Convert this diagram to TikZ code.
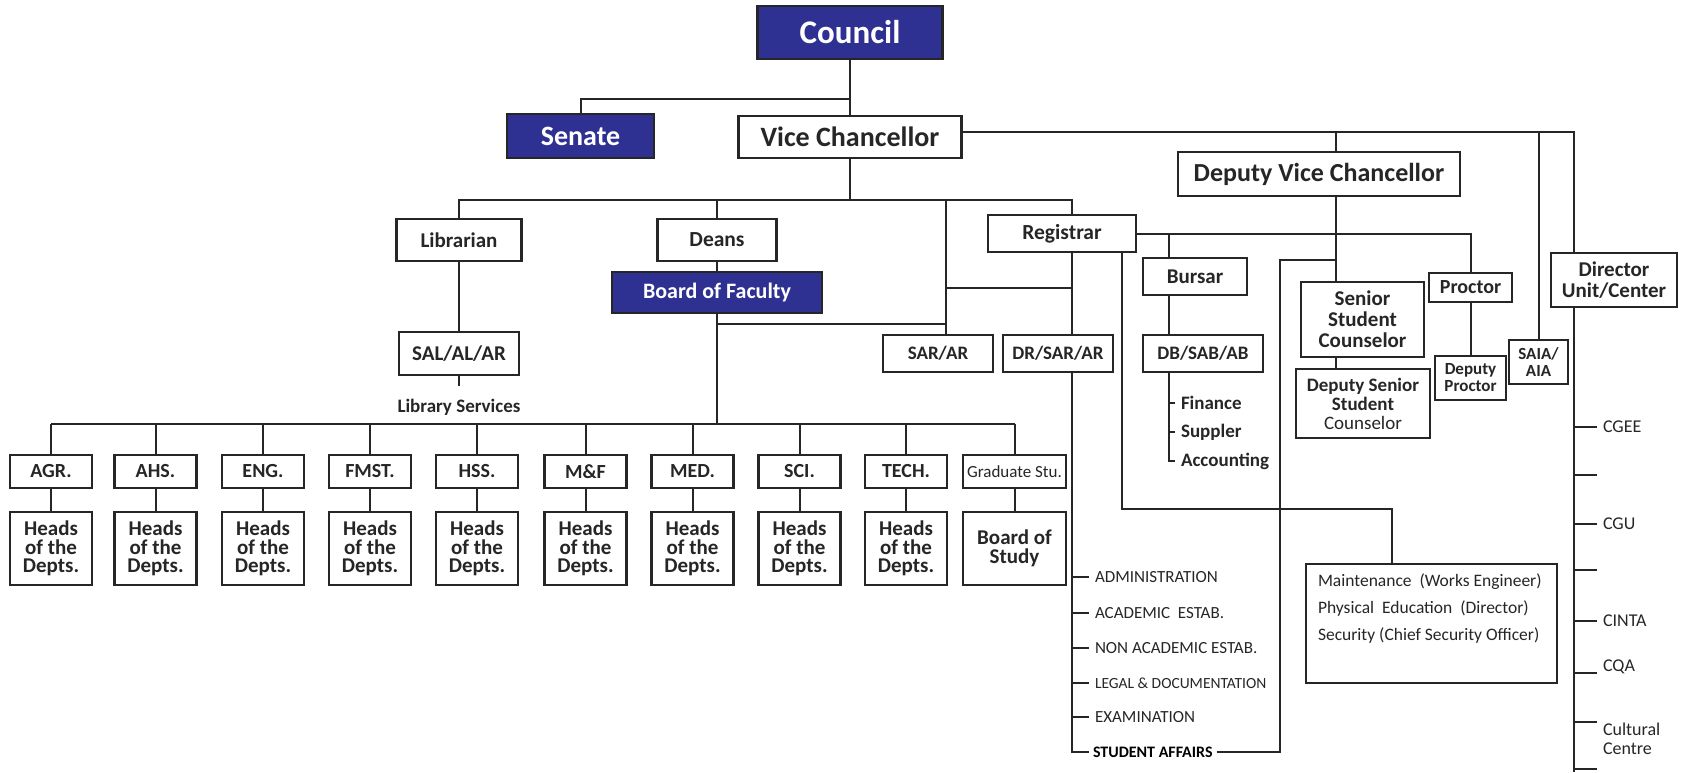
\documentclass[tikz,border=0pt]{standalone}
\usepackage{fontspec}
\setmainfont{Carlito}
\usepackage{tikz}
\usetikzlibrary{positioning}
\definecolor{councilblue}{HTML}{2E3192}
\definecolor{linegray}{HTML}{262626}
\tikzset{
	box/.style={draw=linegray, line width=2.2pt, fill=white, inner sep=2pt, align=center},
	bluebox/.style={box, fill=councilblue, text=white},
	facbox/.style={box, minimum width=82pt, minimum height=33pt, font=\bfseries\fontsize{20}{20}\selectfont},
	headbox/.style={box, minimum width=82pt, minimum height=73pt, font=\bfseries\fontsize{21}{18.5}\selectfont},
	listtext/.style={anchor=west, inner xsep=5pt, inner ysep=0pt, font=\fontsize{17}{17}\selectfont},
	ticktext/.style={listtext, font=\fontsize{18}{19}\selectfont},
	subtext/.style={anchor=west, inner xsep=5pt, inner ysep=0pt, font=\bfseries\fontsize{19}{19}\selectfont}
}
\newcommand{\faccol}[3]{\node[facbox] (#1) at (#2,471.5) {#3};
					\node[headbox] (h#1) at (#2,548.5) {Heads\\of the\\Depts.};
					\draw (#1) -- (h#1);
					\draw (#1.north) -- (#1.north |- facbus);}

\begin{document}
\begin{tikzpicture}[x=1pt, y=-1pt, line width=2pt, color=linegray]

					\useasboundingbox (0,0) rectangle (1681,772);

					\node[bluebox, minimum width=185pt, minimum height=53pt, font=\bfseries\fontsize{33}{33}\selectfont] (council) at (850,32.5) {Council};
					\node[bluebox, minimum width=147pt, minimum height=44pt, font=\bfseries\fontsize{28}{28}\selectfont] (senate) at (580.5,136) {Senate};
					\node[box, minimum width=223pt, minimum height=42pt, font=\bfseries\fontsize{28}{28}\selectfont] (vc) at (850,137) {Vice Chancellor};
					\node[box, minimum width=282pt, minimum height=44pt, font=\bfseries\fontsize{26}{26}\selectfont] (dvc) at (1319,174) {Deputy Vice Chancellor};

					\node[box, minimum width=125pt, minimum height=42pt, font=\bfseries\fontsize{21}{21}\selectfont] (librarian) at (459,240) {Librarian};
					\node[box, minimum width=119pt, minimum height=42pt, font=\bfseries\fontsize{21.5}{21.5}\selectfont] (deans) at (717,240) {Deans};
					\node[bluebox, minimum width=210pt, minimum height=41pt, font=\bfseries\fontsize{22}{22}\selectfont] (bof) at (717,292.5) {Board of Faculty};
					\node[box, minimum width=148pt, minimum height=37pt, font=\bfseries\fontsize{21.5}{21.5}\selectfont] (registrar) at (1062,233.5) {Registrar};
					\node[box, minimum width=120pt, minimum height=43pt, font=\bfseries\fontsize{21}{21}\selectfont] (salalar) at (459,353.5) {SAL/AL/AR};
					\node[inner sep=0pt, font=\bfseries\fontsize{19}{19}\selectfont] (libserv) at (459,407) {Library Services};
					\node[box, minimum width=110pt, minimum height=37pt, font=\bfseries\fontsize{19}{19}\selectfont] (sarar) at (938,353.5) {SAR/AR};
					\node[box, minimum width=110pt, minimum height=37pt, font=\bfseries\fontsize{19}{19}\selectfont] (drsarar) at (1058,353.5) {DR/SAR/AR};
					\node[box, minimum width=104pt, minimum height=37pt, font=\bfseries\fontsize{21}{21}\selectfont] (bursar) at (1195,276.5) {Bursar};
					\node[box, minimum width=120pt, minimum height=37pt, font=\bfseries\fontsize{19}{19}\selectfont] (dbsabab) at (1203,353.5) {DB/SAB/AB};

					\node[box, minimum width=123pt, minimum height=75pt, font=\bfseries\fontsize{21}{21}\selectfont] (ssc) at (1362.5,319.5) {Senior\\Student\\Counselor};
					\node[box, minimum width=134pt, minimum height=69pt, font=\bfseries\fontsize{19}{19}\selectfont] (dssc) at (1363,403.5) {Deputy Senior\\Student\\{\mdseries Counselor}};
					\node[box, minimum width=83pt, minimum height=29pt, font=\bfseries\fontsize{20}{20}\selectfont] (proctor) at (1470.5,287.5) {Proctor};
					\node[box, minimum width=71pt, minimum height=44pt, font=\bfseries\fontsize{17}{17}\selectfont] (dproctor) at (1470.5,378) {Deputy\\Proctor};
					\node[box, minimum width=59pt, minimum height=44pt, font=\bfseries\fontsize{17}{17}\selectfont] (saia) at (1538.5,362) {SAIA/\\AIA};
					\node[box, minimum width=126pt, minimum height=54pt, font=\bfseries\fontsize{21}{21}\selectfont] (director) at (1614,280) {Director\\Unit/Center};
					\node[box, minimum width=251pt, minimum height=119pt] (maint) at (1431.5,623.5) {};
					\node[listtext, anchor=north west, align=left, font=\fontsize{17.5}{27}\selectfont] (mainttext) at (1312,573) {Maintenance\ \ (Works Engineer)\\Physical\ \ Education\ \ (Director)\\Security (Chief Security Officer)};

					\coordinate (cj) at (850,99);
					\coordinate (vcr) at (961,132);
					\coordinate (dvcin) at (1336,152);
					\coordinate (dirin) at (1574,253);
					\coordinate (dirout) at (1574,307);
					\coordinate (dirend) at (1574,772);
					\coordinate (vcbus) at (850,200);
					\coordinate (regin) at (1072,215);
					\coordinate (sarin) at (946,335);
					\coordinate (rj) at (1072,288);
					\coordinate (sarj) at (946,324);
					\coordinate (facbus) at (717,424);
					\coordinate (libstub) at (459,386);
					\coordinate (bursin) at (1169,258);
					\coordinate (sscin) at (1336,282);
					\coordinate (saj) at (1280,260);
					\coordinate (mj) at (1122,509);
					\coordinate (maintin) at (1392,564);

					\draw (council) -- (vc);
					\draw (senate.north) |- (cj);
					\draw (vcr) -| (dirin);
					\draw (dvcin |- vcr) -- (dvcin);
					\draw (saia.north |- vcr) -- (saia.north);
					\draw (dirout) -- (dirend);

					\draw (vc) -- (vcbus);
					\draw (librarian.north) |- (vcbus);
					\draw (vcbus) -| (regin);
					\draw (deans.north |- vcbus) -- (deans.north);
					\draw (sarin |- vcbus) -- (sarin);
					\draw (sarin |- rj) -- (rj);
					\draw (bof.south |- sarj) -- (sarj);
					\draw (librarian) -- (salalar);
					\draw (salalar.south) -- (libstub);
					\draw (deans) -- (bof);
					\draw (bof) -- (facbus);

					\draw (registrar.south -| regin) -- (drsarar.north -| regin);
					\draw (registrar.east) -| (proctor.north);
					\draw (bursin |- registrar.east) -- (bursin);
					\draw (bursar.south -| bursin) -- (dbsabab.north -| bursin);
					\draw (dvc.south -| sscin) -- (sscin);
					\draw (ssc.south -| sscin) -- (dssc.north -| sscin);
					\draw (proctor) -- (dproctor);
					\draw (registrar.south -| mj) -- (mj) -| (maintin);

					\node[subtext] (finance) at (1175,403) {Finance};
					\node[subtext] (suppler) at (1175,432) {Suppler};
					\node[subtext] (accounting) at (1175,461) {Accounting};
					\draw (dbsabab.south -| bursin) |- (accounting.west);
					\draw (finance.west -| bursin) -- (finance.west);
					\draw (suppler.west -| bursin) -- (suppler.west);

					\node[listtext] (admin) at (1089,577) {ADMINISTRATION};
					\node[listtext] (acad) at (1089,613) {ACADEMIC\ \ ESTAB.};
					\node[listtext] (nonacad) at (1089,648) {NON ACADEMIC ESTAB.};
					\node[listtext, font=\fontsize{15.5}{16}\selectfont] (legal) at (1089,683) {LEGAL \& DOCUMENTATION};
					\node[listtext] (exam) at (1089,717) {EXAMINATION};
					\node[listtext, font=\bfseries\fontsize{16}{16}\selectfont, text=black, inner xsep=3pt] (stuaff) at (1089,752) {STUDENT AFFAIRS};
					\draw (drsarar.south -| regin) |- (stuaff.west);
					\draw (admin.west -| regin) -- (admin.west);
					\draw (acad.west -| regin) -- (acad.west);
					\draw (nonacad.west -| regin) -- (nonacad.west);
					\draw (legal.west -| regin) -- (legal.west);
					\draw (exam.west -| regin) -- (exam.west);
					\draw (stuaff.east) -| (saj) -- (saj -| sscin);

					\node[ticktext] (cgee) at (1597,427) {CGEE};
					\coordinate (tka) at (1597,475);
					\node[ticktext] (cgu) at (1597,524) {CGU};
					\coordinate (tkb) at (1597,570);
					\node[ticktext] (cinta) at (1597,621) {CINTA};
					\node[ticktext] (cqa) at (1597,667) {CQA};
					\coordinate (tkc) at (1597,673);
					\node[ticktext, anchor=north west, align=left] (cultural) at (1597,722) {Cultural\\Centre};
					\coordinate (tkd) at (1597,769);
					\draw (cgee.west -| dirout) -- (cgee.west);
					\draw (tka -| dirout) -- (tka);
					\draw (cgu.west -| dirout) -- (cgu.west);
					\draw (tkb -| dirout) -- (tkb);
					\draw (cinta.west -| dirout) -- (cinta.west);
					\draw (tkc -| dirout) -- (tkc);
					\draw (cultural.north west -| dirout) -- (cultural.north west);
					\draw (tkd -| dirout) -- (tkd);

					\faccol{agr}{51}{AGR.}
					\faccol{ahs}{155.5}{AHS.}
					\faccol{eng}{263}{ENG.}
					\faccol{fmst}{370}{FMST.}
					\faccol{hss}{477}{HSS.}
					\faccol{mf}{585.5}{M\&F}
					\faccol{med}{692.5}{MED.}
					\faccol{sci}{799.5}{SCI.}
					\faccol{tech}{906}{TECH.}

					\node[facbox, minimum width=103pt, font=\fontsize{17}{17}\selectfont] (grad) at (1014.5,471.5) {Graduate Stu.};
					\node[headbox, minimum width=103pt, font=\bfseries\fontsize{21}{19}\selectfont] (bos) at (1014.5,548.5) {Board of\\Study};
					\draw (grad) -- (bos);
					\draw (grad.north) -- (grad.north |- facbus);
					\draw (agr.north |- facbus) -- (grad.north |- facbus);

\end{tikzpicture}
\end{document}
